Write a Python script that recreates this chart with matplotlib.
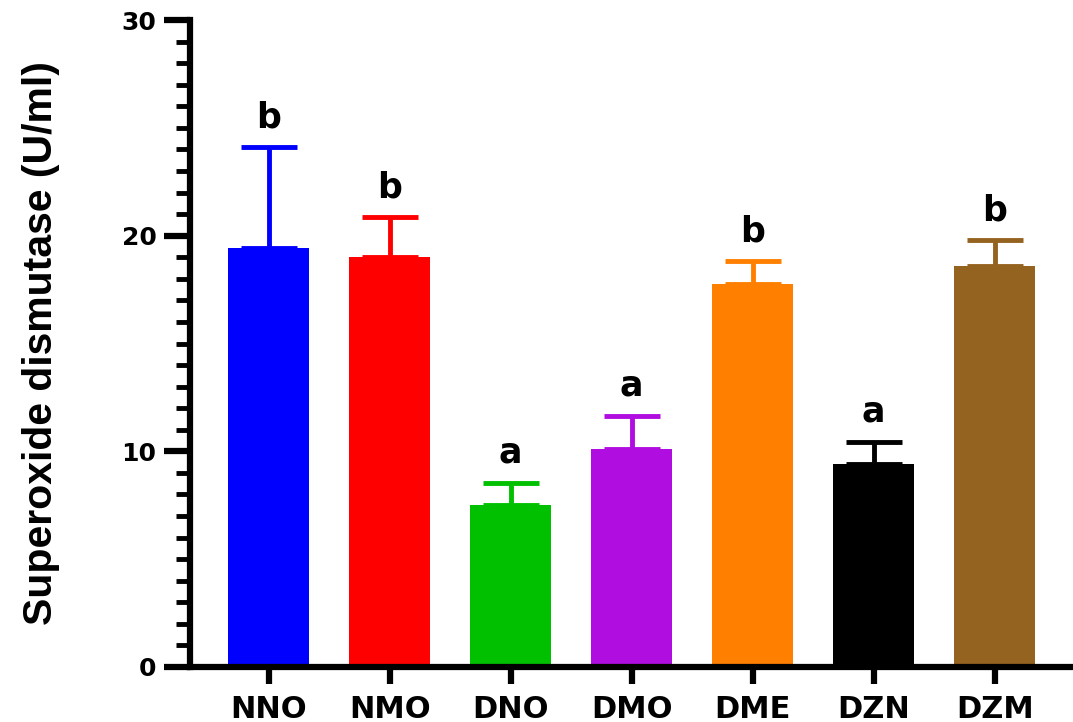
import matplotlib.pyplot as plt
from matplotlib.ticker import MultipleLocator

groups = ['NNO', 'NMO', 'DNO', 'DMO', 'DME', 'DZN', 'DZM']
means = [19.43, 19.0, 7.5, 10.1, 17.76, 9.4, 18.6]
errs = [4.67, 1.86, 1.05, 1.55, 1.06, 1.05, 1.2]
letters = ['b', 'b', 'a', 'a', 'b', 'a', 'b']
colors = ['#0000ff', '#ff0000', '#00c000', '#b00ee0', '#ff8000', '#000000', '#956320']

plt.rcParams['font.family'] = ['DejaVu Sans']

fig = plt.figure(figsize=(10.73, 7.22), dpi=100)
ax = fig.add_axes([0.177, 0.0762, 0.82, 0.896])

x = range(len(groups))
ax.bar(x, means, width=0.67, color=colors, zorder=2)
for i in x:
    ax.errorbar(i, means[i], yerr=[[0], [errs[i]]], color=colors[i],
                elinewidth=3.5, capsize=20, capthick=3.5, zorder=1)
    ax.text(i, means[i] + errs[i] + 0.6, letters[i], ha='center', va='bottom',
            fontsize=25, fontweight='bold')

ax.set_xlim(-0.65, 6.62)
ax.set_ylim(0, 30)
ax.set_xticks(list(x))
ax.set_xticklabels(groups, fontsize=22, fontweight='bold')
ax.yaxis.set_major_locator(MultipleLocator(10))
ax.yaxis.set_minor_locator(MultipleLocator(1))
for lab in ax.get_yticklabels():
    lab.set_fontsize(18)
    lab.set_fontweight('bold')

ax.spines['top'].set_visible(False)
ax.spines['right'].set_visible(False)
ax.spines['left'].set_linewidth(4.5)
ax.spines['bottom'].set_linewidth(4.5)
ax.tick_params(axis='y', which='major', length=19, width=4.5, pad=5)
ax.tick_params(axis='y', which='minor', length=10, width=3.5)
ax.tick_params(axis='x', which='major', length=12, width=4.5, pad=8)

ax.set_ylabel('Superoxide dismutase (U/ml)', fontsize=29.5, fontweight='bold',
              family=['Liberation Sans'], labelpad=44)

fig.savefig('out.png', dpi=100)
